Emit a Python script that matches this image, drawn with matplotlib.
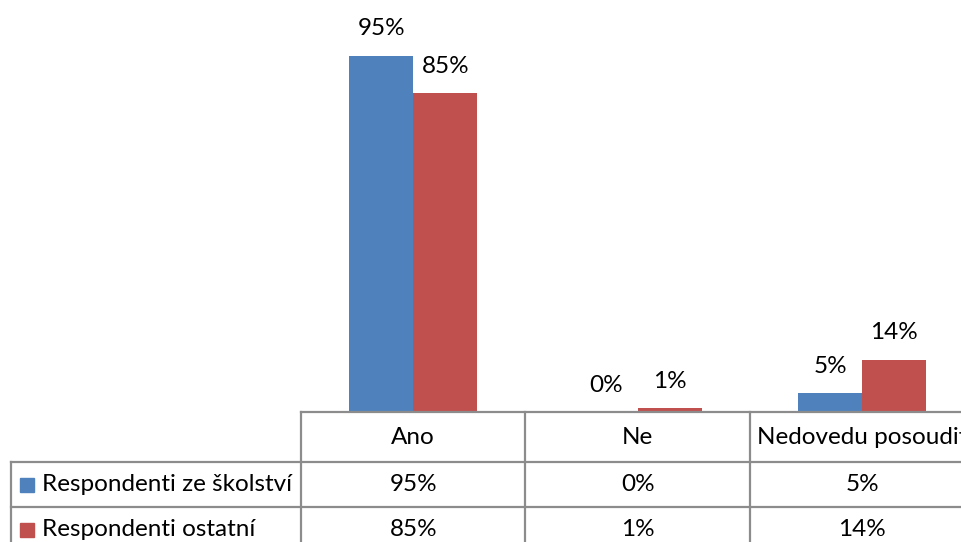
import numpy as np
import matplotlib as mpl
mpl.use("Agg")
import matplotlib.pyplot as plt
from matplotlib.patches import Rectangle

FS = 17.5
mpl.rcParams.update({"font.family": ["Lato", "DejaVu Sans"], "font.size": FS})

categories = ["Ano", "Ne", "Nedovedu posoudit"]
series_names = ["Respondenti ze školství", "Respondenti ostatní"]
skolstvi = [0.95, 0.00, 0.05]
ostatni = [0.85, 0.01, 0.14]
colors = ["#4F81BD", "#C0504D"]
grid_col = "#8C8C8C"

W, H = 962, 542
fig = plt.figure(figsize=(W / 100, H / 100), dpi=100)

# plot area in pixels (top-left origin): x 301.., baseline y=412, 100% = 375 px
cat_w = 224.5
ax = fig.add_axes([301 / W, (H - 412) / H, 3 * cat_w / W, 375 / H])
ax.set_xlim(0, 3)
ax.set_ylim(0, 1)
ax.axis("off")

x = np.arange(len(categories)) + 0.5
w = 64 / cat_w
for vals, col, off in ((skolstvi, colors[0], -w / 2), (ostatni, colors[1], w / 2)):
    ax.bar(x + off, vals, w, color=col, clip_on=False)
    for xi, v in zip(x + off, vals):
        ax.annotate(f"{v:.0%}", (xi, v), xytext=(0, 27), textcoords="offset pixels",
                    ha="center", va="center", fontsize=FS, annotation_clip=False)

# overlay in pixel coords for the data table
ov = fig.add_axes([0, 0, 1, 1])
ov.set_xlim(0, W)
ov.set_ylim(H, 0)
ov.axis("off")

def px_x(xd):
    return ax.transData.transform((xd, 0))[0]

edges = [px_x(i) for i in range(len(categories) + 1)]
rows = [412, 462, 507, 552]
lw = 1.6
# header row top and row separators
ov.plot([edges[0], W + 20], [rows[0]] * 2, color=grid_col, lw=lw)
for ry in rows[1:3]:
    ov.plot([11, W + 20], [ry, ry], color=grid_col, lw=lw)
ov.plot([11, 11], [rows[1], H + 5], color=grid_col, lw=lw)
for ex in edges:
    ov.plot([ex, ex], [rows[0], H + 5], color=grid_col, lw=lw)

hy = (rows[0] + rows[1]) / 2
for xi, c in zip(x, categories):
    ov.text(px_x(xi), hy, c, ha="center", va="center", fontsize=FS)

for r, (name, vals, col) in enumerate(zip(series_names, (skolstvi, ostatni), colors)):
    cy = (rows[r + 1] + rows[r + 2]) / 2
    ov.add_patch(Rectangle((20, cy - 7), 14, 14, color=col))
    ov.text(42, cy, name, ha="left", va="center", fontsize=FS)
    for xi, v in zip(x, vals):
        ov.text(px_x(xi), cy, f"{v:.0%}", ha="center", va="center", fontsize=FS)

fig.savefig("out.png", dpi=100)
